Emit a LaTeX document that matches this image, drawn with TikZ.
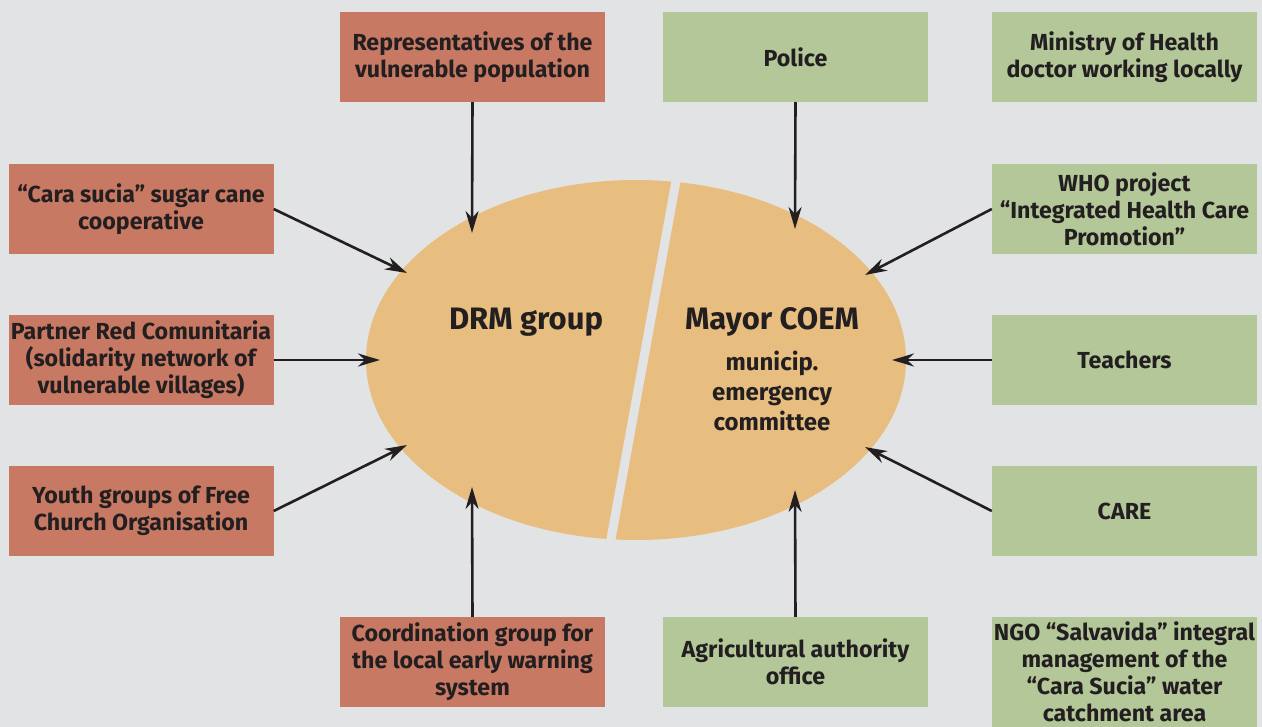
\documentclass[tikz,border=0pt]{standalone}
\usepackage{fontspec}
\setmainfont{Fira Sans}
\usetikzlibrary{arrows.meta,shapes.geometric}
\definecolor{bgc}{HTML}{E1E3E4}
\definecolor{redc}{HTML}{C87963}
\definecolor{greenc}{HTML}{B3C799}
\definecolor{ellc}{HTML}{E8BE80}
\definecolor{txtc}{HTML}{231F20}
\begin{document}
\begin{tikzpicture}[x=1pt,y=-1pt,
  boxbase/.style={minimum width=265pt, minimum height=90pt, inner sep=0pt, align=center, text=txtc, font=\fontsize{23.2}{27}\selectfont\bfseries},
  redbox/.style={boxbase, fill=redc},
  greenbox/.style={boxbase, fill=greenc},
  conn/.style={draw=txtc, line width=2.6pt, -{Stealth[length=22pt,width=13pt,inset=7pt]}},
  big/.style={text=txtc, font=\fontsize{31}{34}\selectfont\bfseries},
  small/.style={text=txtc, font=\fontsize{24}{30}\selectfont\bfseries, align=center}]
\fill[bgc] (0,0) rectangle (1262,727);
\useasboundingbox (0,0) rectangle (1262,727);
% ellipse
\node[ellipse, fill=ellc, minimum width=540pt, minimum height=360pt, inner sep=0pt] (core) at (636,360) {};
\draw[bgc, line width=9pt] (678,170) -- (609,550);
\node[big] (drm) at (526,322) {DRM group};
\node[big] (mayor) at (772,322) {Mayor COEM};
\node[small] (coem) at (772,391) {municip.\\emergency\\committee};
% boxes
\node[redbox] (rep) at (472.5,57) {Representatives of the\\vulnerable population};
\node[greenbox] (police) at (795.5,57) {Police};
\node[greenbox] (moh) at (1124.5,57) {Ministry of Health\\doctor working locally};
\node[redbox] (cane) at (141,209) {“Cara sucia” sugar cane\\cooperative};
\node[greenbox] (who) at (1124.5,209) {WHO project\\“Integrated Health Care\\Promotion”};
\node[redbox] (red) at (141,360) {Partner Red Comunitaria\\(solidarity network of\\vulnerable villages)};
\node[greenbox] (teach) at (1124.5,360) {Teachers};
\node[redbox] (youth) at (141,511) {Youth groups of Free\\Church Organisation};
\node[greenbox] (care) at (1124.5,511) {CARE};
\node[redbox] (coord) at (472.5,662) {Coordination group for\\the local early warning\\system};
\node[greenbox] (agri) at (795.5,662) {Agricultural authority\\office};
\node[greenbox, minimum height=110pt] (ngo) at (1124.5,672) {NGO “Salvavida” integral\\management of the\\“Cara Sucia” water\\catchment area};
% arrow targets
\coordinate (tRep) at (472,233);
\coordinate (tPol) at (795,229);
\coordinate (tCane) at (407,273);
\coordinate (tWho) at (865,275);
\coordinate (tRed) at (380,360);
\coordinate (tTeach) at (892,360);
\coordinate (tYouth) at (407,445);
\coordinate (tCare) at (865,447);
\coordinate (tCoord) at (472,487);
\coordinate (tAgri) at (795,490);
% connectors
\draw[conn] (rep.south) -- (tRep);
\draw[conn] (police.south) -- (tPol);
\draw[conn] (cane.east) -- (tCane);
\draw[conn] (who.west) -- (tWho);
\draw[conn] (red.east) -- (tRed);
\draw[conn] (teach.west) -- (tTeach);
\draw[conn] (youth.east) -- (tYouth);
\draw[conn] (care.west) -- (tCare);
\draw[conn] (coord.north) -- (tCoord);
\draw[conn] (agri.north) -- (tAgri);
\end{tikzpicture}
\end{document}
